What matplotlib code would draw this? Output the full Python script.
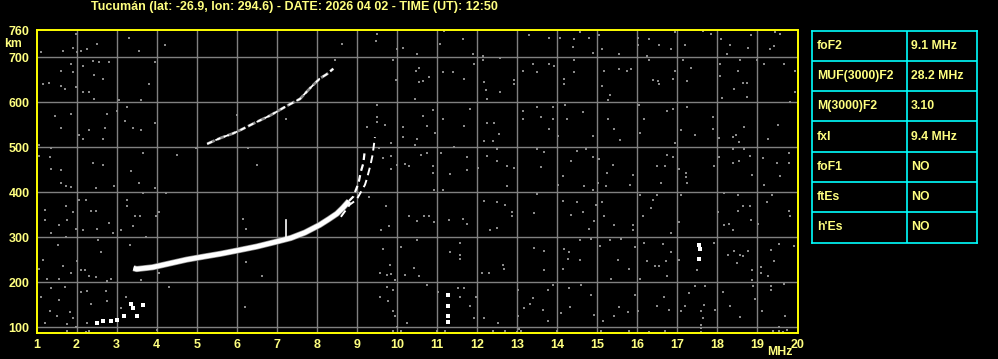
import numpy as np
import matplotlib
matplotlib.use("Agg")
import matplotlib.pyplot as plt

W, H = 998, 359

title = "Tucumán (lat: -26.9, lon: 294.6) - DATE: 2026 04 02 - TIME (UT): 12:50"

# ionogram traces (frequency MHz, virtual height km)
f2_o_f = [3.42, 3.5, 3.9, 4.3, 4.75, 5.2, 5.6, 6.0, 6.5, 7.0, 7.35, 7.7, 8.07, 8.3, 8.5, 8.65, 8.8]
f2_o_h = [231, 229, 233, 241, 250, 257, 263, 270, 279, 290, 298, 310, 327, 340, 352, 365, 380]
f2_top_o_f = [8.8, 8.91, 9.04, 9.1, 9.16, 9.2]
f2_top_o_h = [380, 390, 420, 446, 464, 495]
f2_x_f = [8.6, 8.82, 8.99, 9.2, 9.24, 9.33, 9.39, 9.45]
f2_x_h = [345, 372, 383, 416, 427, 457, 482, 522]
hop2_f = [5.26, 5.41, 5.62, 5.9, 6.12, 6.41, 6.83, 7.24, 7.58, 7.82, 8.07, 8.25, 8.41]
hop2_h = [507, 513, 521, 530, 539, 552, 570, 591, 607, 630, 652, 662, 674]
low_f = [2.5, 2.66, 2.85, 3.0, 3.18, 3.37, 3.41, 3.5, 3.66]
low_h = [110, 113, 114, 116, 124, 152, 142, 125, 150]
spike_f = [7.22, 7.22]
spike_h = [294, 339]
vert_f = [11.27, 11.27, 11.27, 11.27, 17.53, 17.57, 17.53]
vert_h = [172, 146, 124, 112, 283, 274, 252]

# background interference dots (frequency, height)
noise = [
    (1.98, 752), (3.22, 759), (3.31, 743), (4.20, 726), (1.12, 711), (1.67, 713), (1.92, 720),
    (2.02, 711), (2.12, 713), (2.27, 717), (2.51, 730), (3.56, 713), (1.87, 684), (2.17, 681),
    (2.41, 691), (2.56, 688), (2.81, 688), (1.62, 670), (1.92, 666), (2.43, 661), (2.66, 652),
    (3.97, 688), (1.17, 639), (1.32, 643), (1.62, 635), (1.72, 630), (1.98, 633), (2.17, 622),
    (2.32, 622), (2.43, 607), (3.81, 639), (3.06, 604), (3.62, 604), (1.46, 570), (1.87, 573),
    (2.77, 573), (3.01, 579), (3.27, 590), (1.62, 542), (2.32, 537), (2.72, 542), (3.21, 557),
    (3.41, 542), (3.62, 537), (3.97, 554), (2.07, 527), (2.17, 519), (2.66, 519), (1.07, 505),
    (1.37, 498), (3.66, 487), (4.51, 483), (1.07, 481), (1.33, 479), (2.41, 465), (2.66, 461),
    (1.37, 452), (1.62, 450), (3.37, 446), (4.98, 498), (6.29, 498), (6.51, 461), (7.22, 563),
    (6.01, 572), (8.45, 693), (8.62, 730), (9.51, 752), (9.47, 735), (10.01, 717), (10.16, 721),
    (10.51, 707), (9.91, 693), (10.47, 670), (9.98, 648), (10.55, 644), (10.46, 607), (9.51, 593),
    (9.51, 567), (9.51, 556), (9.26, 544), (9.70, 548), (10.16, 544), (10.16, 522), (10.49, 519),
    (9.86, 510), (10.46, 505), (9.56, 499), (9.84, 481), (9.66, 476), (10.21, 463), (10.31, 458),
    (9.86, 452), (10.01, 461),
    (1.62, 421), (1.73, 413), (1.87, 411), (2.48, 408), (2.93, 413), (3.56, 421), (3.97, 408),
    (3.66, 398), (4.23, 398), (2.07, 383), (2.23, 383), (3.26, 383), (1.73, 368), (3.25, 368),
    (1.21, 361), (1.92, 355), (2.37, 359), (2.48, 359), (4.06, 355), (1.21, 339), (1.75, 337),
    (3.47, 346), (3.58, 346), (3.98, 346), (1.57, 326), (2.81, 331), (3.41, 324), (1.98, 319),
    (2.17, 315), (2.5, 319), (2.9, 310), (1.37, 310), (3.12, 315), (3.73, 301), (1.73, 301),
    (1.54, 283), (2.54, 294), (2.62, 268), (3.33, 283), (1.17, 250), (1.07, 229), (1.67, 235),
    (2.0, 247), (1.87, 221), (2.12, 226), (2.22, 226), (2.32, 213), (2.48, 211), (2.87, 207),
    (1.25, 207), (1.57, 207), (2.76, 203), (3.62, 205), (4.06, 221), (4.31, 190), (1.37, 187),
    (1.71, 189), (2.25, 181), (2.12, 177), (2.73, 181), (1.12, 168), (1.57, 161), (2.37, 152),
    (3.23, 168), (2.75, 157), (3.1, 142), (1.33, 135), (1.83, 133), (1.52, 124), (1.9, 120),
    (1.21, 109), (1.75, 107), (2.25, 109), (1.98, 101), (2.23, 90), (1.77, 92), (6.2, 144),
    (6.62, 214), (6.23, 244), (6.16, 340), (6.22, 319), (9.72, 368), (9.81, 324), (9.61, 315),
    (9.66, 274), (9.82, 239), (9.57, 221), (9.76, 216), (9.86, 219), (9.96, 205), (9.74, 190),
    (9.89, 183), (9.57, 166), (9.78, 157), (9.91, 135), (9.96, 124), (9.99, 101), (10.24, 109),
    (10.31, 346), (10.49, 335), (10.51, 294), (10.11, 279), (10.2, 216), (10.43, 231),
    (10.55, 213), (9.31, 390), (4.0, 93), (9.9, 92), (10.1, 91), (11.0, 92), (2.3, 91),
    (11.18, 757), (11.08, 730), (11.64, 741), (11.89, 707), (12.14, 702), (12.58, 698),
    (13.29, 748), (13.79, 743), (14.08, 743), (14.39, 722), (14.43, 741), (14.58, 756),
    (14.79, 743), (14.89, 710), (15.05, 748), (15.13, 717), (15.54, 707), (16.03, 743),
    (16.03, 726), (16.29, 739), (16.53, 726), (16.84, 717), (16.93, 756), (17.18, 726),
    (17.63, 757), (17.84, 752), (18.09, 739), (18.32, 726), (18.77, 721), (18.84, 748),
    (19.44, 756), (19.57, 752), (19.42, 724), (19.32, 717), (18.24, 707), (10.54, 676),
    (10.79, 656), (10.64, 647), (11.14, 667), (11.39, 667), (11.68, 652), (11.92, 685),
    (12.14, 693), (12.18, 644), (12.22, 626), (12.58, 622), (12.24, 607), (12.93, 648),
    (12.93, 639), (13.14, 670), (13.39, 685), (13.49, 667), (13.79, 685), (13.93, 679),
    (14.18, 652), (14.18, 639), (14.43, 693), (14.43, 667), (15.18, 670), (15.13, 635),
    (15.33, 616), (15.28, 604), (15.54, 674), (15.74, 670), (15.84, 674), (16.24, 702),
    (16.29, 693), (16.39, 648), (16.51, 647), (16.54, 639), (16.88, 652), (16.93, 670),
    (17.13, 693), (17.23, 647), (17.33, 676), (18.07, 684), (18.07, 657), (18.11, 609),
    (18.42, 630), (18.52, 670), (18.57, 693), (18.63, 643), (18.73, 643), (18.74, 611),
    (19.17, 684), (19.67, 684), (19.0, 693), (19.95, 670), (19.95, 622),
    (10.89, 583), (10.64, 570), (11.14, 563), (10.75, 546), (10.94, 532), (11.83, 585),
    (11.68, 546), (12.24, 554), (12.43, 554), (12.54, 530), (12.39, 514), (12.18, 514),
    (13.14, 581), (13.14, 563), (13.49, 590), (13.6, 567), (13.89, 589), (13.89, 563),
    (13.79, 541), (14.03, 524), (14.2, 593), (14.24, 563), (14.64, 578), (14.89, 524),
    (15.28, 563), (15.43, 541), (15.58, 515), (16.05, 594), (16.17, 563), (16.08, 532),
    (16.74, 581), (16.88, 585), (16.94, 510), (17.08, 537), (17.23, 590), (17.43, 527),
    (17.88, 567), (17.88, 541), (18.05, 520), (18.38, 522), (18.47, 527), (18.55, 511),
    (18.67, 544), (19.27, 519), (19.52, 550), (19.82, 599),
    (10.6, 483), (10.75, 487), (10.89, 459), (10.89, 443), (11.1, 487), (11.33, 441),
    (11.43, 500), (11.74, 478), (11.74, 450), (12.03, 453), (12.24, 481), (12.49, 496),
    (12.49, 470), (12.75, 457), (12.93, 453), (13.49, 496), (13.68, 490), (13.6, 456),
    (14.14, 435), (14.35, 468), (14.49, 491), (14.72, 496), (14.89, 479), (15.04, 474),
    (15.24, 443), (15.39, 461), (15.89, 439), (16.48, 457), (16.68, 457), (16.74, 483),
    (16.88, 479), (17.04, 452), (17.21, 443), (17.21, 433), (17.92, 459), (18.04, 479),
    (18.38, 496), (18.38, 464), (18.55, 470), (18.67, 495), (18.82, 481), (18.86, 437),
    (19.13, 476), (19.48, 465), (19.78, 487), (19.78, 465), (19.57, 436),
    (10.92, 404), (11.14, 404), (12.74, 413), (13.5, 396), (14.03, 416), (14.68, 413),
    (14.89, 405), (15.01, 421), (15.22, 413), (15.82, 416), (16.58, 421), (17.24, 421),
    (18.17, 399), (19.17, 416), (19.36, 394), (19.78, 359), (16.49, 393), (17.09, 394),
    (18.52, 393), (12.18, 381), (12.49, 377), (12.7, 372), (12.87, 355), (14.14, 381),
    (14.49, 377), (14.97, 372), (15.13, 377), (16.08, 394), (16.39, 383), (10.68, 346),
    (10.81, 346), (10.93, 333), (11.29, 337), (11.64, 341), (11.75, 329), (12.33, 315),
    (12.49, 321), (12.87, 346), (13.43, 353), (14.35, 350), (14.64, 355), (14.79, 319),
    (14.93, 336), (15.18, 346), (15.41, 327), (15.89, 327), (15.89, 316), (16.14, 347),
    (16.33, 364), (16.83, 310), (17.03, 333), (18.02, 355), (18.17, 327), (18.3, 330),
    (18.38, 316), (18.51, 357), (18.82, 370), (18.63, 370), (18.84, 339), (19.02, 329),
    (19.23, 378), (19.55, 285), (11.58, 288), (11.33, 266), (11.58, 261), (11.58, 252),
    (12.12, 221), (12.31, 221), (12.64, 239), (12.68, 229), (13.41, 276), (13.68, 270),
    (13.68, 226), (14.14, 229), (14.18, 273), (14.28, 251), (14.29, 268), (14.58, 294),
    (14.58, 250), (14.85, 296), (15.08, 281), (15.33, 293), (15.34, 207), (15.51, 250),
    (15.59, 296), (15.8, 229), (15.94, 279), (16.08, 207), (16.18, 288), (16.23, 247),
    (16.43, 236), (16.53, 236), (16.64, 285), (16.72, 246), (16.74, 214), (16.84, 266),
    (17.03, 250), (17.92, 288), (18.27, 261), (18.42, 270), (18.57, 261), (18.64, 259),
    (18.76, 270), (18.49, 242), (19.09, 233), (19.09, 221), (19.26, 213), (19.41, 246),
    (19.92, 281), (18.86, 227), (18.86, 205), (19.82, 347), (19.34, 272), (17.5, 227),
    (10.75, 194), (11.02, 179), (11.53, 187), (11.68, 187), (11.58, 167), (11.83, 147),
    (11.97, 168), (11.92, 120), (12.18, 121), (12.51, 109), (13.01, 183), (13.01, 124),
    (13.18, 142), (13.31, 152), (13.39, 164), (13.64, 139), (13.76, 183), (13.76, 113),
    (13.89, 194), (14.1, 131), (14.3, 187), (14.33, 144), (14.6, 194), (14.85, 172),
    (14.93, 127), (15.14, 113), (15.43, 125), (15.55, 144), (15.76, 133), (15.94, 172),
    (16.01, 135), (16.49, 147), (16.66, 167), (16.78, 139), (17.08, 135), (17.18, 147),
    (17.28, 176), (17.43, 192), (17.68, 192), (17.66, 150), (17.94, 139), (18.13, 177),
    (18.32, 146), (18.57, 122), (18.9, 192), (18.95, 162), (19.12, 135), (19.34, 183),
    (19.34, 192), (19.67, 196), (19.68, 125), (19.53, 101),
    (12.4, 92), (13.0, 90), (13.05, 95), (13.1, 92), (14.0, 91), (15.1, 91), (15.8, 92),
    (16.3, 90), (16.7, 91), (17.6, 90), (17.6, 97), (17.6, 105), (17.65, 120), (17.6, 135),
    (19.4, 91), (19.55, 92), (19.65, 90), (19.75, 93), (12.7, 91), (11.2, 91), (1.75, 92),
]
noise_f = np.array([p[0] for p in noise])
noise_h = np.array([p[1] for p in noise])

freq_ticks = list(range(1, 21))
height_ticks = [100, 200, 300, 400, 500, 600, 700, 760]

table_names = ["foF2", "MUF(3000)F2", "M(3000)F2", "fxI", "foF1", "ftEs", "h'Es"]
table_values = ["9.1 MHz", "28.2 MHz", "3.10", "9.4 MHz", "NO", "NO", "NO"]

txt = "#ffff80"
font = "Liberation Sans"

fig = plt.figure(figsize=(W / 100, H / 100), dpi=100, facecolor="black")
ax = fig.add_axes([36.5 / W, (H - 333) / H, (797.5 - 36.5) / W, (333 - 30) / H])
ax.set_facecolor("black")
ax.set_xlim(1, 20)
ax.set_ylim(87, 760)

for f in freq_ticks[1:-1]:
    ax.axvline(f, color="#808080", lw=1.0, zorder=1)
for h in height_ticks[:-1]:
    ax.axhline(h, color="#808080", lw=1.0, zorder=1)

ax.scatter(noise_f, noise_h, s=3.8, marker="s", color="#8a8a8a", linewidths=0, zorder=2)

ax.plot(f2_o_f, f2_o_h, color="#909090", lw=4.4, solid_capstyle="butt", zorder=3)
ax.plot(f2_o_f, f2_o_h, color="white", lw=3.4, solid_capstyle="butt", zorder=4)
ax.plot(f2_top_o_f, f2_top_o_h, color="white", lw=1.6, ls=(0, (3, 2)), zorder=4)
ax.plot(f2_x_f, f2_x_h, color="white", lw=1.4, ls=(0, (4, 2.5)), zorder=4)
ax.plot(hop2_f, hop2_h, color="#909090", lw=2.0, ls=(0, (3, 1)), zorder=3)
ax.plot(hop2_f, hop2_h, color="white", lw=1.3, ls=(0, (3, 2)), zorder=4)
ax.plot(low_f, low_h, color="white", lw=0, marker="s", ms=2.6, mew=0, zorder=4)
ax.plot(spike_f, spike_h, color="white", lw=1.2, zorder=4)
ax.plot(vert_f, vert_h, color="white", lw=0, marker="s", ms=2.8, mew=0, zorder=4)

for s in ax.spines.values():
    s.set_color("#ffff00")
    s.set_linewidth(1.4)
ax.set_xticks(freq_ticks)
ax.set_yticks(height_ticks)
ax.tick_params(length=0, pad=4, colors=txt, labelsize=9)
ax.set_xticklabels([str(v) for v in freq_ticks], fontfamily=font, fontweight="bold", color=txt)
ax.set_yticklabels([str(v) for v in height_ticks], fontfamily=font, fontweight="bold", color=txt)
ax.tick_params(axis="y", pad=5)

fig.text(294 / W, 1 - 7 / H, title, ha="center", va="center", color=txt,
         fontsize=9.0, fontfamily=font, fontweight="bold")
fig.text(13 / W, 1 - 44 / H, "km", ha="center", va="center", color=txt,
         fontsize=8.8, fontfamily=font, fontweight="bold")
fig.text(780 / W, 1 - 352 / H, "MHz", ha="center", va="center", color=txt,
         fontsize=8.8, fontfamily=font, fontweight="bold")

# parameter table
tx = fig.add_axes([812 / W, (H - 242.5) / H, (977 - 812) / W, (242.5 - 30.5) / H])
tx.set_facecolor("black")
tx.set_xlim(812, 977)
tx.set_ylim(242.5, 30.5)
tx.set_xticks([])
tx.set_yticks([])
for s in tx.spines.values():
    s.set_color("#00ffff")
    s.set_linewidth(1.2)
rows = np.linspace(30.5, 242.5, len(table_names) + 1)
for y in rows[1:-1]:
    tx.axhline(y, color="#00ffff", lw=1.2)
tx.axvline(907, color="#00ffff", lw=1.2)
for i, (n, v) in enumerate(zip(table_names, table_values)):
    yc = (rows[i] + rows[i + 1]) / 2
    tx.text(817, yc, n, ha="left", va="center", color=txt, fontsize=8.8,
            fontfamily=font, fontweight="bold")
    tx.text(911, yc, v, ha="left", va="center", color=txt, fontsize=8.8,
            fontfamily=font, fontweight="bold")

fig.savefig("out.png", dpi=100, facecolor="black")
